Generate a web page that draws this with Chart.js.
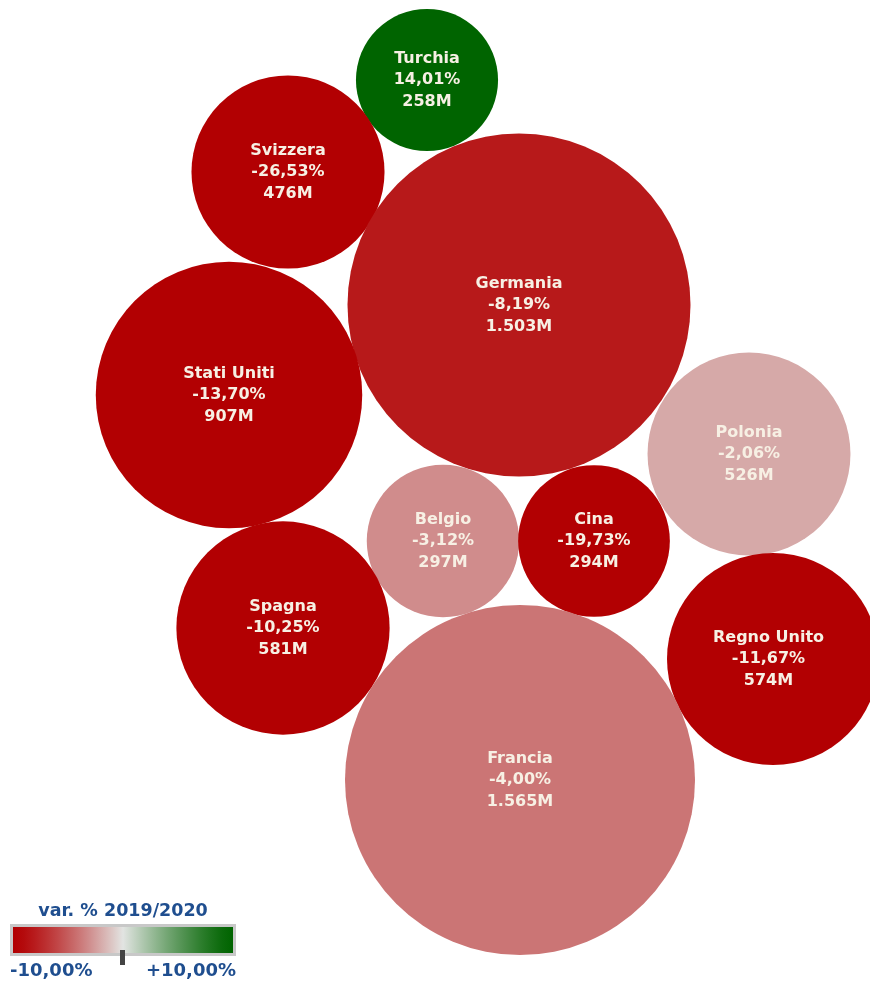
<!DOCTYPE html>
<html>
<head>
<meta charset="utf-8">
<script src="https://cdn.jsdelivr.net/npm/chart.js@4"></script>
<style>
  html, body { margin: 0; padding: 0; background: #fff; }
  #wrap { width: 870px; height: 982px; position: relative; }
</style>
</head>
<body>
<div id="wrap"><canvas id="bubbleChart"></canvas></div>
<script>
// countries, 2020 value (millions) and change 2019/2020 (%)
const countries = ['Turchia', 'Svizzera', 'Germania', 'Stati Uniti', 'Polonia', 'Belgio', 'Cina', 'Spagna', 'Regno Unito', 'Francia'];
const values = [258, 476, 1503, 907, 526, 297, 294, 581, 574, 1565];
const changes = [14.01, -26.53, -8.19, -13.70, -2.06, -3.12, -19.73, -10.25, -11.67, -4.00];
// packed layout, centre of each bubble
const posX = [427, 288, 519, 229, 749, 443, 594, 283, 773, 520];
const posY = [80, 172, 305, 395, 454, 541, 541, 628, 659, 780];
// colour scale range
const scaleMin = -10;
const scaleMax = 10;

const RED = [178, 0, 2], MID = [226, 228, 226], GREEN = [0, 100, 0];

const colorFor = (v) => {
    let t = Math.max(-1, Math.min(1, v / scaleMax));
    const end = t < 0 ? RED : GREEN;
    const f = 1 - Math.pow(1 - Math.abs(t), 1.3);
    const c = MID.map((m, i) => Math.round(m + (end[i] - m) * f));
    return 'rgb(' + c.join(',') + ')';
};

const fmtPct = (v) => v.toFixed(2).replace('.', ',') + '%';
const fmtVal = (v) => String(v).replace(/\B(?=(\d{3})+(?!\d))/g, '.') + 'M';

const K = 4.424; // px per sqrt(million)

const bubbleLabels = {
    id: 'bubbleLabels',
    afterDatasetsDraw(chart) {
        const ctx = chart.ctx;
        const meta = chart.getDatasetMeta(0);
        const W = chart.width;
        ctx.save();
        ctx.fillStyle = '#f7f0e4';
        ctx.font = 'bold 16px "DejaVu Sans"';
        ctx.textAlign = 'center';
        ctx.textBaseline = 'middle';
        meta.data.forEach((el, i) => {
            // centre text on the visible part of the bubble
            const r = el.options.radius;
            const cx = (Math.max(el.x - r, 0) + Math.min(el.x + r, W)) / 2;
            const lines = [countries[i], fmtPct(changes[i]), fmtVal(values[i])];
            lines.forEach((txt, j) => {
                ctx.fillText(txt, cx, el.y + (j - 1) * 21.5);
            });
        });
        ctx.restore();
    }
};

const colorLegend = {
    id: 'colorLegend',
    afterDraw(chart) {
        const ctx = chart.ctx;
        const x0 = 10, y0 = 924, w = 226, h = 32;
        ctx.save();
        ctx.fillStyle = '#1f4e8f';
        ctx.font = 'bold 17.5px "DejaVu Sans"';
        ctx.textAlign = 'center';
        ctx.textBaseline = 'middle';
        ctx.fillText('var. % 2019/2020', x0 + w / 2, 911);

        ctx.fillStyle = '#c8c8c8';
        ctx.fillRect(x0, y0, w, h);
        const g = ctx.createLinearGradient(x0 + 3, 0, x0 + w - 3, 0);
        for (let s = 0; s <= 20; s++) {
            const v = scaleMin + (scaleMax - scaleMin) * s / 20;
            g.addColorStop(s / 20, colorFor(v));
        }
        ctx.fillStyle = g;
        ctx.fillRect(x0 + 3, y0 + 3, w - 6, h - 6);

        ctx.fillStyle = '#444';
        const mx = x0 + 3 + (w - 6) * (0 - scaleMin) / (scaleMax - scaleMin);
        ctx.fillRect(mx - 3, y0 + h - 6, 5, 15);

        ctx.fillStyle = '#1f4e8f';
        ctx.font = 'bold 18px "DejaVu Sans"';
        ctx.textAlign = 'left';
        ctx.fillText(fmtPct(scaleMin), x0, 971);
        ctx.textAlign = 'right';
        ctx.fillText('+' + fmtPct(scaleMax), x0 + w, 971);
        ctx.restore();
    }
};

const points = countries.map((c, i) => ({ x: posX[i], y: posY[i], r: K * Math.sqrt(values[i]) }));

new Chart(document.getElementById('bubbleChart'), {
    type: 'bubble',
    data: {
        labels: countries,
        datasets: [{
            data: points,
            backgroundColor: changes.map(colorFor),
            borderWidth: 0,
            hoverBorderWidth: 0,
            clip: false
        }]
    },
    options: {
        responsive: true,
        maintainAspectRatio: false,
        animation: false,
        layout: { padding: 0, autoPadding: false },
        events: [],
        scales: {
            x: { type: 'linear', min: 0, max: 870, display: false },
            y: { type: 'linear', min: 0, max: 982, reverse: true, display: false }
        },
        plugins: {
            legend: { display: false },
            tooltip: { enabled: false }
        }
    },
    plugins: [bubbleLabels, colorLegend]
});
</script>
</body>
</html>
